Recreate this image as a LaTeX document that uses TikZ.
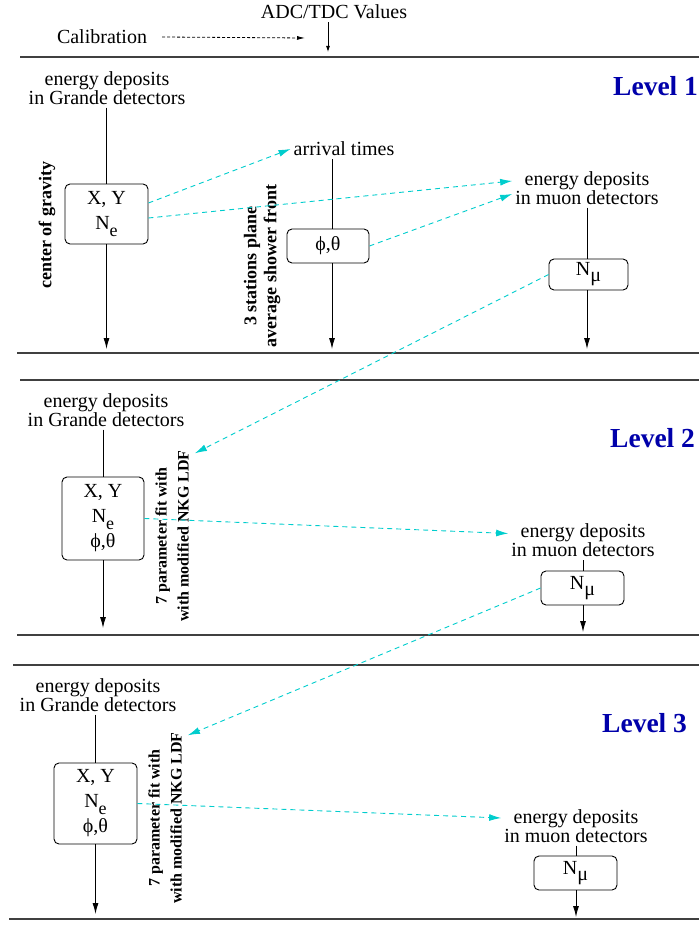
\documentclass[tikz,border=0pt]{standalone}
\usepackage{fontspec}
\setmainfont{Liberation Serif}
\usetikzlibrary{arrows.meta}
\definecolor{levelblue}{RGB}{0,0,170}
\definecolor{linkcyan}{RGB}{0,205,205}

\begin{document}
\begin{tikzpicture}[x=1pt, y=-1pt,
    txt/.style={font=\fontsize{20}{19}\selectfont, align=center, inner sep=3pt},
    valbox/.style={draw, rounded corners=5pt, line width=0.9pt, font=\fontsize{20}{25}\selectfont, align=center, inner sep=0pt},
    rotbig/.style={rotate=90, font=\fontsize{18}{20}\selectfont\bfseries, align=center, inner sep=1pt},
    rotsmall/.style={rotate=90, font=\fontsize{16}{22}\selectfont\bfseries, align=center, inner sep=1pt},
    flow/.style={line width=0.9pt, -{Latex[length=11pt,width=6pt]}},
    feed/.style={line width=0.9pt},
    link/.style={linkcyan, line width=0.9pt, dash pattern=on 5pt off 4pt, -{Latex[length=12pt,width=7pt]}},
    sep/.style={black!75, line width=1.3pt},
    level/.style={text=levelblue, font=\fontsize{27.5}{28}\selectfont\bfseries, anchor=west, inner sep=0pt}]
  \useasboundingbox (0,0) rectangle (699,925);

  % top
  \node[txt] (adc) at (334,12) {ADC/TDC Values};
  \node[txt] (calib) at (102,37) {Calibration};
  \coordinate (adcend) at (328,52);
  \coordinate (calend) at (305,38);
  \draw[line width=0.8pt, -{Latex[length=6pt,width=4pt]}] (adc.south -| adcend) -- (adcend);
  \draw[line width=0.8pt, dash pattern=on 3pt off 2pt, -{Latex[length=8pt,width=4pt]}] (calib.east) ++(12,0) -- (calend);
  \draw[sep] (20,57) -- (699,57);

  % level 1
  \node[level] (lev1) at (613,86) {Level 1};
  \node[txt] (gra1) at (107,88) {energy deposits\\in Grande detectors};
  \node[valbox, minimum width=83pt, minimum height=60pt] (box1) at (106.5,214) {X, Y\\N\raisebox{-7pt}{\fontsize{18}{18}\selectfont e}};
  \node[rotbig] (rot0) at (47,225) {center of gravity};
  \node[txt] (arr1) at (344,149) {arrival times};
  \node[valbox, minimum width=82pt, minimum height=34pt] (ang1) at (328,246) {ϕ,θ};
  \node[rotbig] (rot1) at (262,266) {3 stations plane\\average shower front};
  \node[txt] (muo1) at (587,188) {energy deposits\\in muon detectors};
  \node[valbox, minimum width=79pt, minimum height=31pt] (nmu1) at (588.5,274.5) {N\raisebox{-6pt}{μ}};
  \coordinate (end1a) at (106.5,349);
  \coordinate (end1b) at (332,349);
  \coordinate (end1c) at (587,349);
  \draw[feed] (box1.north |- gra1.south) -- (box1.north);
  \draw[flow] (box1.south) -- (end1a);
  \draw[feed] (end1b |- arr1.south) -- (end1b |- ang1.north);
  \draw[flow] (end1b |- ang1.south) -- (end1b);
  \draw[feed] (end1c |- muo1.south) -- (end1c |- nmu1.north);
  \draw[flow] (end1c |- nmu1.south) -- (end1c);
  \draw[link] ([yshift=11pt]box1.east) -- (arr1.west);
  \draw[link] ([yshift=-4pt]box1.east) -- ([yshift=7pt]muo1.west);
  \draw[link] (ang1.east) -- ([yshift=-6pt]muo1.west);
  \draw[sep] (17,353) -- (699,353);

  % level 2
  \draw[sep] (20,380) -- (699,380);
  \node[level] (lev2) at (610,438) {Level 2};
  \node[txt] (gra2) at (106,410) {energy deposits\\in Grande detectors};
  \node[valbox, minimum width=82pt, minimum height=83pt] (box2) at (103,518.5) {X, Y\\N\raisebox{-7pt}{\fontsize{18}{18}\selectfont e}\\ϕ,θ};
  \node[rotsmall] (rot2) at (172,536) {7 parameter fit with\\with modified NKG LDF};
  \node[txt] (muo2) at (583,540.5) {energy deposits\\in muon detectors};
  \node[valbox, minimum width=83pt, minimum height=34pt] (nmu2) at (582.5,588) {N\raisebox{-6pt}{μ}};
  \coordinate (end2a) at (103,628);
  \coordinate (end2b) at (583,632);
  \draw[feed] (box2.north |- gra2.south) -- (box2.north);
  \draw[flow] (box2.south) -- (end2a);
  \draw[feed] (end2b |- muo2.south) -- (end2b |- nmu2.north);
  \draw[flow] (end2b |- nmu2.south) -- (end2b);
  \draw[link] (nmu1.west) -- ([xshift=5pt,yshift=-4pt]rot2.south east);
  \draw[link] (box2.east) -- ([yshift=7pt]muo2.west);
  \draw[sep] (17,635) -- (699,635);

  % level 3
  \draw[sep] (13,665) -- (699,665);
  \node[level] (lev3) at (602,723) {Level 3};
  \node[txt] (gra3) at (98,695) {energy deposits\\in Grande detectors};
  \node[valbox, minimum width=83pt, minimum height=81pt] (box3) at (95.5,803.5) {X, Y\\N\raisebox{-7pt}{\fontsize{18}{18}\selectfont e}\\ϕ,θ};
  \node[rotsmall] (rot3) at (165,818) {7 parameter fit with\\with modified NKG LDF};
  \node[txt] (muo3) at (576,826) {energy deposits\\in muon detectors};
  \node[valbox, minimum width=83pt, minimum height=34pt] (nmu3) at (575.5,873) {N\raisebox{-6pt}{μ}};
  \coordinate (end3a) at (95.5,914);
  \coordinate (end3b) at (576,917);
  \draw[feed] (box3.north |- gra3.south) -- (box3.north);
  \draw[flow] (box3.south) -- (end3a);
  \draw[feed] (end3b |- muo3.south) -- (end3b |- nmu3.north);
  \draw[flow] (end3b |- nmu3.south) -- (end3b);
  \draw[link] (nmu2.west) -- ([xshift=5pt,yshift=-4pt]rot3.south east);
  \draw[link] (box3.east) -- ([yshift=8pt]muo3.west);
  \draw[sep] (9,919) -- (699,919);
\end{tikzpicture}
\end{document}
